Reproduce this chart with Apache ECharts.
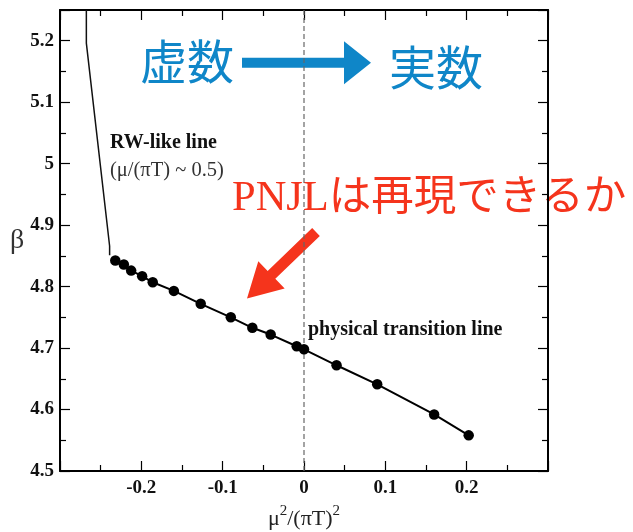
<!DOCTYPE html>
<html>
<head>
<meta charset="utf-8">
<script src="https://cdn.jsdelivr.net/npm/echarts@6/dist/echarts.min.js"></script>
<style>
  html, body { margin: 0; padding: 0; background: #fff; }
  #chart { width: 633px; height: 532px; }
</style>
</head>
<body>
<div id="chart"></div>
<script>
// Physical transition line: β against μ²/(πT)²
const muSq = [-0.232, -0.2215, -0.2125, -0.199, -0.186, -0.160, -0.127, -0.090,
              -0.0635, -0.041, -0.009, 0.0, 0.040, 0.090, 0.160, 0.2025];
const beta = [4.8425, 4.836, 4.826, 4.817, 4.807, 4.793, 4.772, 4.750,
              4.733, 4.722, 4.703, 4.698, 4.672, 4.641, 4.592, 4.558];

// RW-like line (μ/(πT) ~ 0.5)
const rwMuSq = [-0.2676, -0.2676, -0.239, -0.239];
const rwBeta = [5.25, 5.196, 4.866, 4.851];

// Axis ranges and tick labels
const xRange = [-0.3, 0.3];
const yRange = [4.5, 5.25];
const xTickLabels = ['-0.2', '-0.1', '0', '0.1', '0.2'];
const yTickLabels = ['4.5', '4.6', '4.7', '4.8', '4.9', '5', '5.1', '5.2'];

const serif = '"Liberation Serif", "DejaVu Serif", serif';
const pair = (xs, ys) => xs.map((x, i) => [x, ys[i]]);

const fmtLabel = (list) => (v) => {
  const s = String(+(+v).toFixed(2));
  return list.includes(s) ? s : '';
};

const chart = echarts.init(document.getElementById('chart'));

const frameAxis = {
  axisLine: { show: true, onZero: false, lineStyle: { color: '#000', width: 2 } },
  axisTick: { show: true, inside: true, length: 10, lineStyle: { color: '#000', width: 1.2 } },
  minorTick: { show: true, splitNumber: 2, length: 6, lineStyle: { color: '#000', width: 1.2 } },
  splitLine: { show: false },
  minorSplitLine: { show: false }
};

// Arrow shapes for the annotations
function arrowPolygon(x0, y0, x1, y1, halfShaft, headLen, headHalf) {
  const dx = x1 - x0, dy = y1 - y0, L = Math.hypot(dx, dy);
  const ux = dx / L, uy = dy / L, nx = -uy, ny = ux;
  const bx = x1 - ux * headLen, by = y1 - uy * headLen;
  return [
    [x0 + nx * halfShaft, y0 + ny * halfShaft],
    [bx + nx * halfShaft, by + ny * halfShaft],
    [bx + nx * headHalf, by + ny * headHalf],
    [x1, y1],
    [bx - nx * headHalf, by - ny * headHalf],
    [bx - nx * halfShaft, by - ny * halfShaft],
    [x0 - nx * halfShaft, y0 - ny * halfShaft]
  ];
}

const blue = '#0f86c8';
const red = '#f5341c';

chart.setOption({
  animation: false,
  backgroundColor: '#fff',
  grid: { left: 60, right: 85, top: 10, bottom: 61, containLabel: false, outerBoundsMode: 'none' },
  xAxis: [
    Object.assign({
      type: 'value', position: 'bottom', min: xRange[0], max: xRange[1], interval: 0.1,
      axisLabel: {
        show: true, margin: 8, color: '#111', fontFamily: serif, fontWeight: 'bold', fontSize: 19,
        showMinLabel: false, showMaxLabel: false, formatter: fmtLabel(xTickLabels)
      },
      name: '{a|μ}{s|2}{a|/(πT)}{s|2}',
      nameLocation: 'middle', nameGap: 33,
      nameTextStyle: {
        rich: {
          a: { fontFamily: serif, fontSize: 22, color: '#222', lineHeight: 26, verticalAlign: 'bottom' },
          s: { fontFamily: serif, fontSize: 15, color: '#222', lineHeight: 14, verticalAlign: 'top' }
        }
      }
    }, frameAxis),
    Object.assign({
      type: 'value', position: 'top', min: xRange[0], max: xRange[1], interval: 0.1,
      axisLabel: { show: false }
    }, frameAxis)
  ],
  yAxis: [
    Object.assign({
      type: 'value', position: 'left', min: yRange[0], max: yRange[1], interval: 0.1,
      axisLabel: {
        show: true, margin: 6, color: '#111', fontFamily: serif, fontWeight: 'bold', fontSize: 19,
        showMaxLabel: false, formatter: fmtLabel(yTickLabels)
      },
      name: 'β', nameLocation: 'middle', nameRotate: 0, nameGap: 32,
      nameTextStyle: { fontFamily: serif, fontSize: 28, color: '#333' }
    }, frameAxis),
    Object.assign({
      type: 'value', position: 'right', min: yRange[0], max: yRange[1], interval: 0.1,
      axisLabel: { show: false }
    }, frameAxis)
  ],
  series: [
    {
      name: 'μ=0', type: 'line', symbol: 'none', silent: true,
      data: [[0, yRange[0]], [0, yRange[1]]],
      lineStyle: { color: '#666', width: 1.2, type: [5, 3] }
    },
    {
      name: 'RW-like line', type: 'line', symbol: 'none',
      data: pair(rwMuSq, rwBeta),
      lineStyle: { color: '#111', width: 1.5 }
    },
    {
      name: 'physical transition line', type: 'line',
      symbol: 'circle', symbolSize: 10.5,
      itemStyle: { color: '#000' },
      lineStyle: { color: '#000', width: 2 },
      data: pair(muSq, beta)
    }
  ],
  graphic: [
    { type: 'text', left: 110, top: 133, style: { text: 'RW-like line', fontFamily: serif, fontWeight: 'bold', fontSize: 20, fill: '#111' } },
    { type: 'text', left: 110, top: 160, style: { text: '(μ/(πT) ~ 0.5)', fontFamily: serif, fontSize: 20.5, fill: '#333' } },
    { type: 'text', left: 308, top: 320, style: { text: 'physical transition line', fontFamily: serif, fontWeight: 'bold', fontSize: 20, fill: '#111' } },
    { type: 'text', left: 140, top: 38, style: { text: '虚数', fontFamily: '"Noto Sans CJK JP"', fontSize: 47, fill: blue } },
    { type: 'text', left: 389, top: 44, style: { text: '実数', fontFamily: '"Noto Sans CJK JP"', fontSize: 47, fill: blue } },
    { type: 'polygon', shape: { points: arrowPolygon(242, 62.7, 371, 62.7, 5, 27, 21.5) }, style: { fill: blue } },
    { type: 'text', left: 232, top: 178, style: { text: 'PNJLは再現できるか', fontFamily: '"Liberation Serif", "Noto Sans CJK JP"', fontSize: 42.5, fill: red } },
    { type: 'polygon', shape: { points: arrowPolygon(316, 232, 247, 298.5, 5.5, 34, 19) }, style: { fill: red } }
  ]
});
</script>
</body>
</html>
